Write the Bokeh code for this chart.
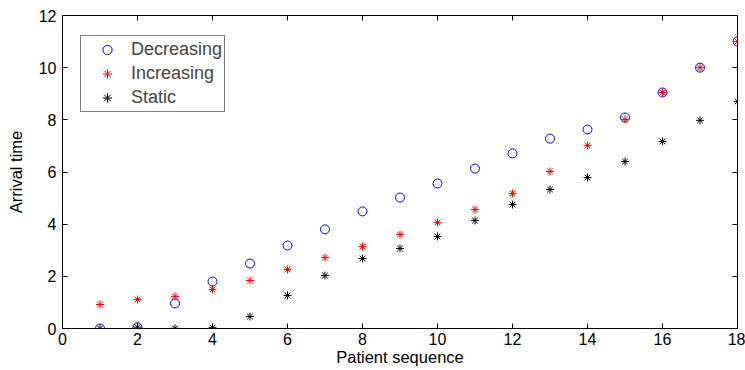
from bokeh.plotting import figure
from bokeh.models import LinearAxis, Range1d, Legend, LegendItem, FixedTicker
from bokeh.embed import file_html
from bokeh.resources import INLINE

patients = list(range(1, 19))
decreasing = [0.0, 0.05, 0.96, 1.8, 2.49, 3.18, 3.8, 4.49, 5.02, 5.56, 6.13, 6.71, 7.28, 7.63, 8.09, 9.05, 10.0, 11.0]
increasing = [0.92, 1.11, 1.23, 1.5, 1.84, 2.26, 2.72, 3.14, 3.6, 4.06, 4.56, 5.18, 6.02, 7.02, 8.01, 9.05, 10.0, 11.0]
static = [0.0, 0.05, 0.01, 0.03, 0.46, 1.27, 2.03, 2.68, 3.07, 3.53, 4.14, 4.75, 5.33, 5.79, 6.4, 7.17, 7.98, 8.7]
x_ticks = list(range(0, 19, 2))
y_ticks = list(range(0, 13, 2))

FONT = "Liberation Sans"

p = figure(width=745, height=370, output_backend="svg", toolbar_location=None,
           x_range=Range1d(0, 18), y_range=Range1d(0, 12),
           min_border_left=62, min_border_right=8, min_border_top=15, min_border_bottom=42,
           x_axis_location=None, y_axis_location=None)
p.grid.visible = False
p.outline_line_color = None
p.background_fill_color = "white"
p.border_fill_color = "white"

def style(ax, ticks, labels=True):
    ax.ticker = FixedTicker(ticks=ticks)
    ax.major_tick_in = 5
    ax.major_tick_out = 0
    ax.minor_tick_line_color = None
    ax.axis_line_color = "black"
    ax.major_tick_line_color = "black"
    ax.major_label_text_font = FONT
    ax.major_label_text_font_size = "16px"
    ax.major_label_text_color = "black"
    ax.axis_label_text_font = FONT
    ax.axis_label_text_font_size = "16.5px"
    ax.axis_label_text_font_style = "normal"
    ax.axis_label_text_color = "black"
    if not labels:
        ax.major_label_text_font_size = "0px"
        ax.major_label_text_alpha = 0
        ax.major_label_standoff = 0

xb = LinearAxis(axis_label="Patient sequence")
style(xb, x_ticks)
xb.major_label_standoff = 4
xb.axis_label_standoff = 0
xt = LinearAxis()
style(xt, x_ticks, False)
yl = LinearAxis(axis_label="Arrival time")
style(yl, y_ticks)
yl.major_label_standoff = 6
yl.axis_label_standoff = 11
yr = LinearAxis()
style(yr, y_ticks, False)
p.add_layout(xb, "below")
p.add_layout(xt, "above")
p.add_layout(yl, "left")
p.add_layout(yr, "right")

r1 = p.scatter(patients, decreasing, marker="circle", size=9, fill_color=None,
               line_color="#0000ff", line_width=1)
r2 = p.scatter(patients, increasing, marker="asterisk", size=8,
               line_color="#ff0000", line_width=1)
r3 = p.scatter(patients, static, marker="asterisk", size=8,
               line_color="#000000", line_width=1)

legend = Legend(items=[LegendItem(label="Decreasing", renderers=[r1]),
                       LegendItem(label="Increasing", renderers=[r2]),
                       LegendItem(label="Static", renderers=[r3])],
                location=(18, 216))
legend.border_line_color = "black"
legend.border_line_width = 1
legend.label_text_font = FONT
legend.label_text_font_size = "18px"
legend.glyph_width = 48
legend.glyph_height = 23
legend.label_height = 23
legend.label_standoff = 0
legend.spacing = 1
legend.padding = 2
legend.margin = 0
legend.background_fill_color = "white"
p.add_layout(legend, "center")

open("out.html", "w").write(file_html(p, INLINE))
